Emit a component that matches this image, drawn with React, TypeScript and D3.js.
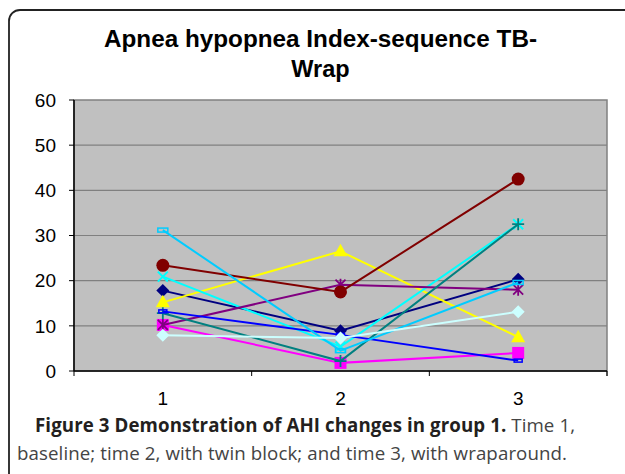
import React from 'react';
import * as d3 from 'd3';

// ── Data ──────────────────────────────────────────────────────────────────────
const TIMES = ['1', '2', '3'];
const Y_TICKS = [0, 10, 20, 30, 40, 50, 60];

const navyDiamond = [17.8, 8.9, 20.3];
const magentaSquare = [10.2, 1.8, 4.0];
const yellowTriangle = [15.2, 26.5, 7.5];
const cyanCross = [20.9, 5.4, 32.5];
const purpleStar = [10.2, 19.1, 18.0];
const maroonCircle = [23.4, 17.5, 42.5];
const tealPlus = [12.8, 2.2, 32.5];
const blueDash = [13.2, 8.0, 2.3];
const skyDash = [31.2, 4.5, 19.6];
const paleDiamond = [7.9, 7.3, 13.1];

type Marker = 'diamond' | 'square' | 'triangle' | 'x' | 'star' | 'circle' | 'plus' | 'dash' | 'bar';

const SERIES: { values: number[]; color: string; marker: Marker }[] = [
  { values: navyDiamond, color: '#000080', marker: 'diamond' },
  { values: magentaSquare, color: '#FF00FF', marker: 'square' },
  { values: yellowTriangle, color: '#FFFF00', marker: 'triangle' },
  { values: cyanCross, color: '#00FFFF', marker: 'x' },
  { values: purpleStar, color: '#800080', marker: 'star' },
  { values: maroonCircle, color: '#800000', marker: 'circle' },
  { values: tealPlus, color: '#008080', marker: 'plus' },
  { values: blueDash, color: '#0000FF', marker: 'dash' },
  { values: skyDash, color: '#00CCFF', marker: 'bar' },
  { values: paleDiamond, color: '#CCFFFF', marker: 'diamond' },
];

// ── Layout ────────────────────────────────────────────────────────────────────
const W = 625;
const H = 474;
const PLOT = { left: 74, top: 100, right: 607, bottom: 371 };

const x = d3.scaleBand().domain(TIMES).range([PLOT.left, PLOT.right]);
const y = d3.scaleLinear().domain([0, 60]).range([PLOT.bottom, PLOT.top]);
const cx = (i: number) => (x(TIMES[i]) ?? 0) + x.bandwidth() / 2;
const line = d3.line<number>().x((_, i) => cx(i)).y(v => y(v));

function renderMarker(m: Marker, px: number, py: number, color: string, key: string) {
  switch (m) {
    case 'diamond':
      return <path key={key} d={`M${px},${py - 6.5}L${px + 6.5},${py}L${px},${py + 6.5}L${px - 6.5},${py}Z`} fill={color} />;
    case 'square':
      return <rect key={key} x={px - 6} y={py - 6} width={12} height={12} fill={color} />;
    case 'triangle':
      return <path key={key} d={`M${px},${py - 7.5}L${px + 7},${py + 5}L${px - 7},${py + 5}Z`} fill={color} />;
    case 'circle':
      return <circle key={key} cx={px} cy={py} r={6.5} fill={color} />;
    case 'x':
      return <path key={key} d={`M${px - 5},${py - 5}L${px + 5},${py + 5}M${px + 5},${py - 5}L${px - 5},${py + 5}`} stroke={color} strokeWidth={2} />;
    case 'star':
      return <path key={key} d={`M${px - 5},${py - 5}L${px + 5},${py + 5}M${px + 5},${py - 5}L${px - 5},${py + 5}M${px},${py - 6}L${px},${py + 6}`} stroke={color} strokeWidth={1.8} />;
    case 'plus':
      return <path key={key} d={`M${px - 6},${py}L${px + 6},${py}M${px},${py - 6}L${px},${py + 6}`} stroke={color} strokeWidth={1.8} />;
    case 'dash':
      return <rect key={key} x={px - 4} y={py - 1.5} width={8} height={3} fill="none" stroke={color} strokeWidth={1.5} />;
    case 'bar':
      return <rect key={key} x={px - 5} y={py - 2} width={10} height={4} fill="none" stroke={color} strokeWidth={1.5} />;
  }
}

export default function App() {
  return (
    <svg width={W} height={H} style={{ position: 'absolute', left: 0, top: 0, background: '#fff' }}
      fontFamily="'Liberation Sans', Arial, sans-serif">
      {/* outer frame */}
      <rect x={9} y={10} width={640} height={490} rx={11} fill="none" stroke="#222" strokeWidth={1.8} />

      {/* title */}
      <text x={320.5} y={47} textAnchor="middle" fontSize={23.5} fontWeight="bold" fill="#000"
        textLength={433} lengthAdjust="spacingAndGlyphs">Apnea hypopnea Index-sequence TB-</text>
      <text x={320.5} y={77} textAnchor="middle" fontSize={23.5} fontWeight="bold" fill="#000">Wrap</text>

      {/* plot area */}
      <rect x={PLOT.left} y={PLOT.top} width={PLOT.right - PLOT.left} height={PLOT.bottom - PLOT.top} fill="#C0C0C0" stroke="#808080" strokeWidth={1.5} />
      <line x1={PLOT.right} x2={PLOT.right} y1={PLOT.bottom} y2={PLOT.bottom + 5} stroke="#808080" strokeWidth={1.5} />
      {Y_TICKS.filter(t => t > 0 && t < 60).map(t => (
        <line key={t} x1={PLOT.left} x2={PLOT.right} y1={y(t)} y2={y(t)} stroke="#808080" strokeWidth={1.2} />
      ))}

      {/* series */}
      {SERIES.map((s, si) => (
        <g key={si}>
          <path d={line(s.values) ?? ''} fill="none" stroke={s.color} strokeWidth={2} />
          {s.values.map((v, i) => renderMarker(s.marker, cx(i), y(v), s.color, `${si}-${i}`))}
        </g>
      ))}

      {/* y axis */}
      <line x1={PLOT.left} x2={PLOT.left} y1={PLOT.top} y2={PLOT.bottom} stroke="#000" strokeWidth={1.5} />
      {Y_TICKS.map(t => (
        <g key={t}>
          <line x1={PLOT.left - 5} x2={PLOT.left} y1={y(t)} y2={y(t)} stroke="#000" strokeWidth={1} />
          <text x={56} y={y(t) + 6.8} textAnchor="end" fontSize={19} fill="#000">{t}</text>
        </g>
      ))}

      {/* x axis */}
      <line x1={PLOT.left} x2={PLOT.right} y1={PLOT.bottom} y2={PLOT.bottom} stroke="#000" strokeWidth={1.5} />
      {TIMES.map(t => x(t) ?? 0).concat([PLOT.right]).map((px, i) => (
        <line key={i} x1={px} x2={px} y1={PLOT.bottom} y2={PLOT.bottom + 5} stroke="#000" strokeWidth={1} />
      ))}
      {TIMES.map((t, i) => (
        <text key={t} x={cx(i)} y={405} textAnchor="middle" fontSize={19} fill="#000">{t}</text>
      ))}

      {/* caption */}
      <g fontFamily="'Open Sans', sans-serif" fontSize={18.7}>
        <text x={35} y={432} fill="#444" textLength={540} lengthAdjust="spacing">
          <tspan fontWeight="bold" fill="#231f20">Figure 3 Demonstration of AHI changes in group 1.</tspan>
          <tspan> Time 1,</tspan>
        </text>
        <text x={17} y={460} fill="#444" textLength={550} lengthAdjust="spacing">
          baseline; time 2, with twin block; and time 3, with wraparound.
        </text>
      </g>
    </svg>
  );
}
